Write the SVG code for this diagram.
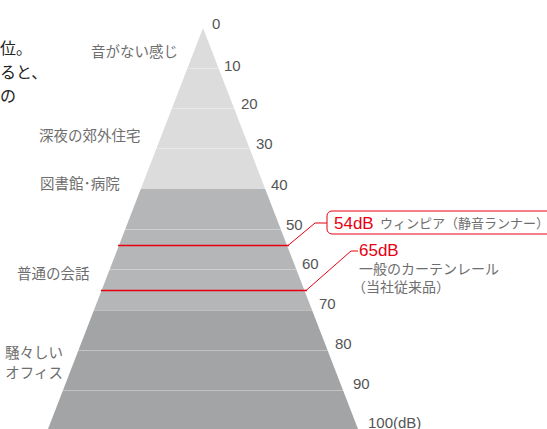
<svg xmlns="http://www.w3.org/2000/svg" width="547" height="429" viewBox="0 0 547 429">
<style>
.lbl{font-family:"Noto Sans CJK JP",sans-serif;font-size:14.5px;fill:#6e6e6e}
.sm{font-size:14px}
.xs{font-size:13px}
.num{font-family:"Liberation Sans","Noto Sans CJK JP",sans-serif;font-size:15px;fill:#555}
.body{font-family:"Noto Sans CJK JP",sans-serif;font-size:16px;fill:#222}
.red{font-family:"Liberation Sans","Noto Sans CJK JP",sans-serif;font-size:17px;fill:#e60012}
.sep{stroke:#ffffff;stroke-opacity:0.35;stroke-width:1}
.lead{fill:none;stroke:#e60012;stroke-width:1}
</style>
<defs>
<clipPath id="tri"><polygon points="203,28 358,429 48,429"/></clipPath>
</defs>
<g id="pyramid" clip-path="url(#tri)">
<rect x="0" y="0" width="547" height="189" fill="#dcdcdc"/>
<rect x="0" y="189" width="547" height="121.5" fill="#b5b6b8"/>
<rect x="0" y="310.5" width="547" height="119" fill="#a3a4a6"/>
<line class="sep" x1="0" y1="68.5" x2="547" y2="68.5"/>
<line class="sep" x1="0" y1="108.5" x2="547" y2="108.5"/>
<line class="sep" x1="0" y1="148.5" x2="547" y2="148.5"/>
<line class="sep" x1="0" y1="229.5" x2="547" y2="229.5"/>
<line class="sep" x1="0" y1="269.5" x2="547" y2="269.5"/>
<line class="sep" x1="0" y1="350.5" x2="547" y2="350.5"/>
<line class="sep" x1="0" y1="390.5" x2="547" y2="390.5"/>
</g>
<g id="connectors">
<line x1="118" y1="245.5" x2="289" y2="245.5" stroke="#e60012" stroke-width="1.3"/>
<line x1="101" y1="290.5" x2="307" y2="290.5" stroke="#e60012" stroke-width="1.3"/>
<polyline class="lead" points="288,245.5 315,223 327,223"/>
<polyline class="lead" points="306,290.5 351,251 358,251"/>
</g>
<g id="scale">
<text class="num" x="212" y="29">0</text>
<text class="num" x="224" y="71">10</text>
<text class="num" x="241" y="109">20</text>
<text class="num" x="256" y="149">30</text>
<text class="num" x="271" y="190">40</text>
<text class="num" x="286" y="230">50</text>
<text class="num" x="302" y="269">60</text>
<text class="num" x="319" y="309">70</text>
<text class="num" x="335" y="349">80</text>
<text class="num" x="353" y="389">90</text>
<text class="num" x="368" y="428">100(dB)</text>
</g>
<g id="labels">
<text class="lbl" x="91" y="57">音がない感じ</text>
<text class="lbl" x="39" y="141">深夜の郊外住宅</text>
<text class="lbl" x="40" y="189">図書館･病院</text>
<text class="lbl" x="17" y="279">普通の会話</text>
<text class="lbl" x="63" y="358" text-anchor="end">騒々しい</text>
<text class="lbl" x="63" y="378" text-anchor="end">オフィス</text>
</g>
<g id="body-text">
<text class="body" x="0" y="54">位。</text>
<text class="body" x="0" y="78">ると、</text>
<text class="body" x="0" y="102">の</text>
</g>
<g id="callout-54">
<rect x="327" y="211" width="240" height="23" rx="5" fill="#fff" stroke="#e60012" stroke-width="1"/>
<text class="red" x="334" y="229">54dB</text>
<text class="lbl xs" x="380" y="228">ウィンピア（静音ランナー）</text>
</g>
<g id="callout-65">
<text class="red" x="359" y="256">65dB</text>
<text class="lbl sm" x="359" y="274">一般のカーテンレール</text>
<text class="lbl sm" x="352" y="292">（当社従来品）</text>
</g>
</svg>
